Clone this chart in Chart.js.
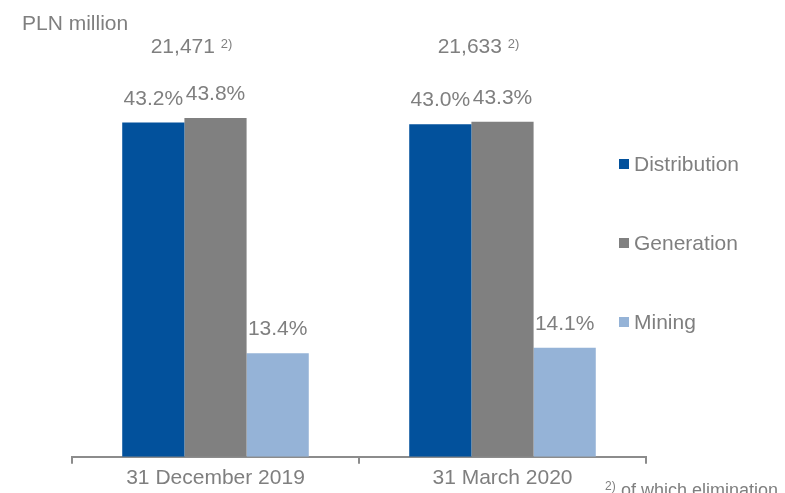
<!DOCTYPE html>
<html>
<head>
<meta charset="utf-8">
<script src="https://cdn.jsdelivr.net/npm/chart.js@4"></script>
<style>
  body { margin: 0; background: #fff; }
  #wrap { width: 785px; height: 493px; position: relative; }
</style>
</head>
<body>
<div id="wrap"><canvas id="myChart"></canvas></div>
<script>
const categories = ['31 December 2019', '31 March 2020']
const distribution = [43.2, 43.0]
const generation = [43.8, 43.3]
const mining = [13.4, 14.1]
const totals = ['21,471', '21,633']
const seriesNames = ['Distribution', 'Generation', 'Mining']

const FONT = '"Liberation Sans", Arial, sans-serif'
const GREY = '#7f7f7f'

// draws percent labels, totals, legend and the side texts
const extras = {
  id: 'extras',
  afterDatasetsDraw(chart) {
    const ctx = chart.ctx
    const area = chart.chartArea
    ctx.save()
    ctx.fillStyle = GREY
    ctx.textAlign = 'center'
    ctx.textBaseline = 'alphabetic'
    ctx.font = '21px ' + FONT

    chart.data.datasets.forEach((ds, i) => {
      chart.getDatasetMeta(i).data.forEach((bar, j) => {
        ctx.fillText(ds.data[j].toFixed(1) + '%', bar.x, bar.y - 18)
      })
    })

    // totals above each group
    const mid = chart.getDatasetMeta(1).data
    totals.forEach((t, j) => {
      const cx = mid[j].x - 24
      ctx.font = '21px ' + FONT
      const w1 = ctx.measureText(t + ' ').width
      ctx.font = '13px ' + FONT
      const w2 = ctx.measureText('2)').width
      const x0 = cx - (w1 + w2) / 2
      ctx.textAlign = 'left'
      ctx.font = '21px ' + FONT
      ctx.fillText(t, x0, 53)
      ctx.font = '13px ' + FONT
      ctx.fillText('2)', x0 + w1, 48)
    })

    // legend
    chart.data.datasets.forEach((ds, i) => {
      const y = area.top + 94 + i * 79
      ctx.fillStyle = ds.backgroundColor
      ctx.fillRect(area.right - 27, y - 5, 10, 10)
      ctx.fillStyle = GREY
      ctx.font = '21px ' + FONT
      ctx.textAlign = 'left'
      ctx.fillText(ds.label, area.right - 12, y + 7)
    })

    ctx.font = '21px ' + FONT
    ctx.fillText('PLN million', 22, 30)

    ctx.font = '12px ' + FONT
    ctx.fillText('2)', 605, 490)
    ctx.font = '18px ' + FONT
    ctx.fillText('of which elimination', 621, 496)
    ctx.restore()
  }
}

new Chart(document.getElementById('myChart'), {
  type: 'bar',
  data: {
    labels: categories,
    datasets: [
      { label: seriesNames[0], data: distribution, backgroundColor: '#02519c' },
      { label: seriesNames[1], data: generation, backgroundColor: '#808080' },
      { label: seriesNames[2], data: mining, backgroundColor: '#95b3d7' }
    ]
  },
  options: {
    responsive: true,
    maintainAspectRatio: false,
    animation: false,
    layout: { padding: { left: 72, right: 139, top: 70, bottom: 0 } },
    datasets: {
      bar: { categoryPercentage: 0.65, barPercentage: 1.0, borderWidth: 0 }
    },
    plugins: {
      legend: { display: false },
      tooltip: { enabled: false }
    },
    scales: {
      x: {
        grid: {
          offset: true,
          drawOnChartArea: false,
          drawTicks: true,
          tickLength: 7,
          color: '#8c8c8c',
          lineWidth: 2
        },
        border: { color: '#8c8c8c', width: 2 },
        ticks: {
          color: GREY,
          font: { family: FONT, size: 21 },
          padding: 2
        }
      },
      y: {
        display: false,
        min: 0,
        max: 50
      }
    }
  },
  plugins: [extras]
})
</script>
</body>
</html>
